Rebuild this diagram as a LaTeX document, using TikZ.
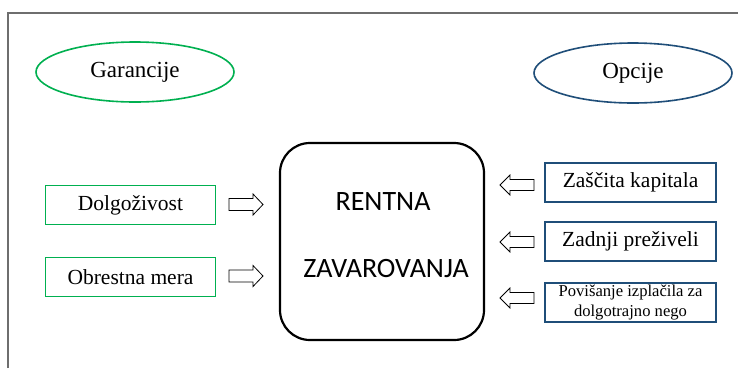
\documentclass[tikz,border=0pt]{standalone}
\usepackage{fontspec}
\setmainfont{Liberation Serif}
\newfontfamily\calib{Carlito}
\usetikzlibrary{shapes.geometric}
\definecolor{grn}{RGB}{0,176,80}
\definecolor{blu}{RGB}{31,78,121}
\definecolor{frm}{RGB}{110,110,110}
\tikzset{
  oval/.style={ellipse,draw,line width=1.6pt,minimum width=198pt,minimum height=60pt,inner sep=0pt,font=\fontsize{23}{26}\selectfont},
  gbox/.style={rectangle,draw=grn,line width=1.8pt,minimum width=170pt,minimum height=39pt,inner sep=0pt,font=\fontsize{21.5}{24}\selectfont},
  bbox/.style={rectangle,draw=blu,line width=1.8pt,minimum width=171pt,minimum height=39pt,inner sep=0pt,font=\fontsize{21.5}{24}\selectfont},
  barrow/.style={draw=black,line width=0.8pt,fill=white},
  centre/.style={font=\calib\fontsize{28}{30}\selectfont,anchor=base,inner sep=0pt}
}
\begin{document}
\begin{tikzpicture}[x=1pt,y=-1pt]
\useasboundingbox (0,0) rectangle (738,368);
\fill[white] (0,0) rectangle (738,368);
\draw[frm,line width=1.5pt] (8,368) -- (8,13) -- (738,13);
% ellipses
\node[oval,draw=grn] (gar) at (135,72) {Garancije};
\node[oval,draw=blu] (opc) at (633,73) {Opcije};
% central box
\draw[line width=2.2pt,rounded corners=30pt] (280,143) rectangle (484,340);
\node[centre] (t1) at (383,210) {RENTNA};
\node[centre] (t2) at (386,277) {ZAVAROVANJA};
% left boxes
\node[gbox] (dol) at (130.5,205) {Dolgoživost};
\node[gbox] (obr) at (130.5,277) {Obrestna mera};
\coordinate (a1) at (229,204.5);
\coordinate (a2) at (229,276);
\foreach \a in {a1,a2}
  \draw[barrow] (\a) ++(0,-6) -- ++(24,0) -- ++(0,-4.5) -- ++(10,10.5) -- ++(-10,10.5) -- ++(0,-4.5) -- ++(-24,0) -- cycle;
% right boxes
\node[bbox] (zas) at (630.5,182.5) {Zaščita kapitala};
\node[bbox] (zad) at (630.5,241.5) {Zadnji preživeli};
\node[bbox,align=center,font=\fontsize{16.6}{20}\selectfont] (pov) at (630.5,302.5) {Povišanje izplačila za\\dolgotrajno nego};
\coordinate (a3) at (534,185);
\coordinate (a4) at (534,242);
\coordinate (a5) at (534,298);
\foreach \a in {a3,a4,a5}
  \draw[barrow] (\a) ++(0,-5.5) -- ++(-24,0) -- ++(0,-4.5) -- ++(-10,10) -- ++(10,10) -- ++(0,-4.5) -- ++(24,0) -- cycle;
\end{tikzpicture}
\end{document}
